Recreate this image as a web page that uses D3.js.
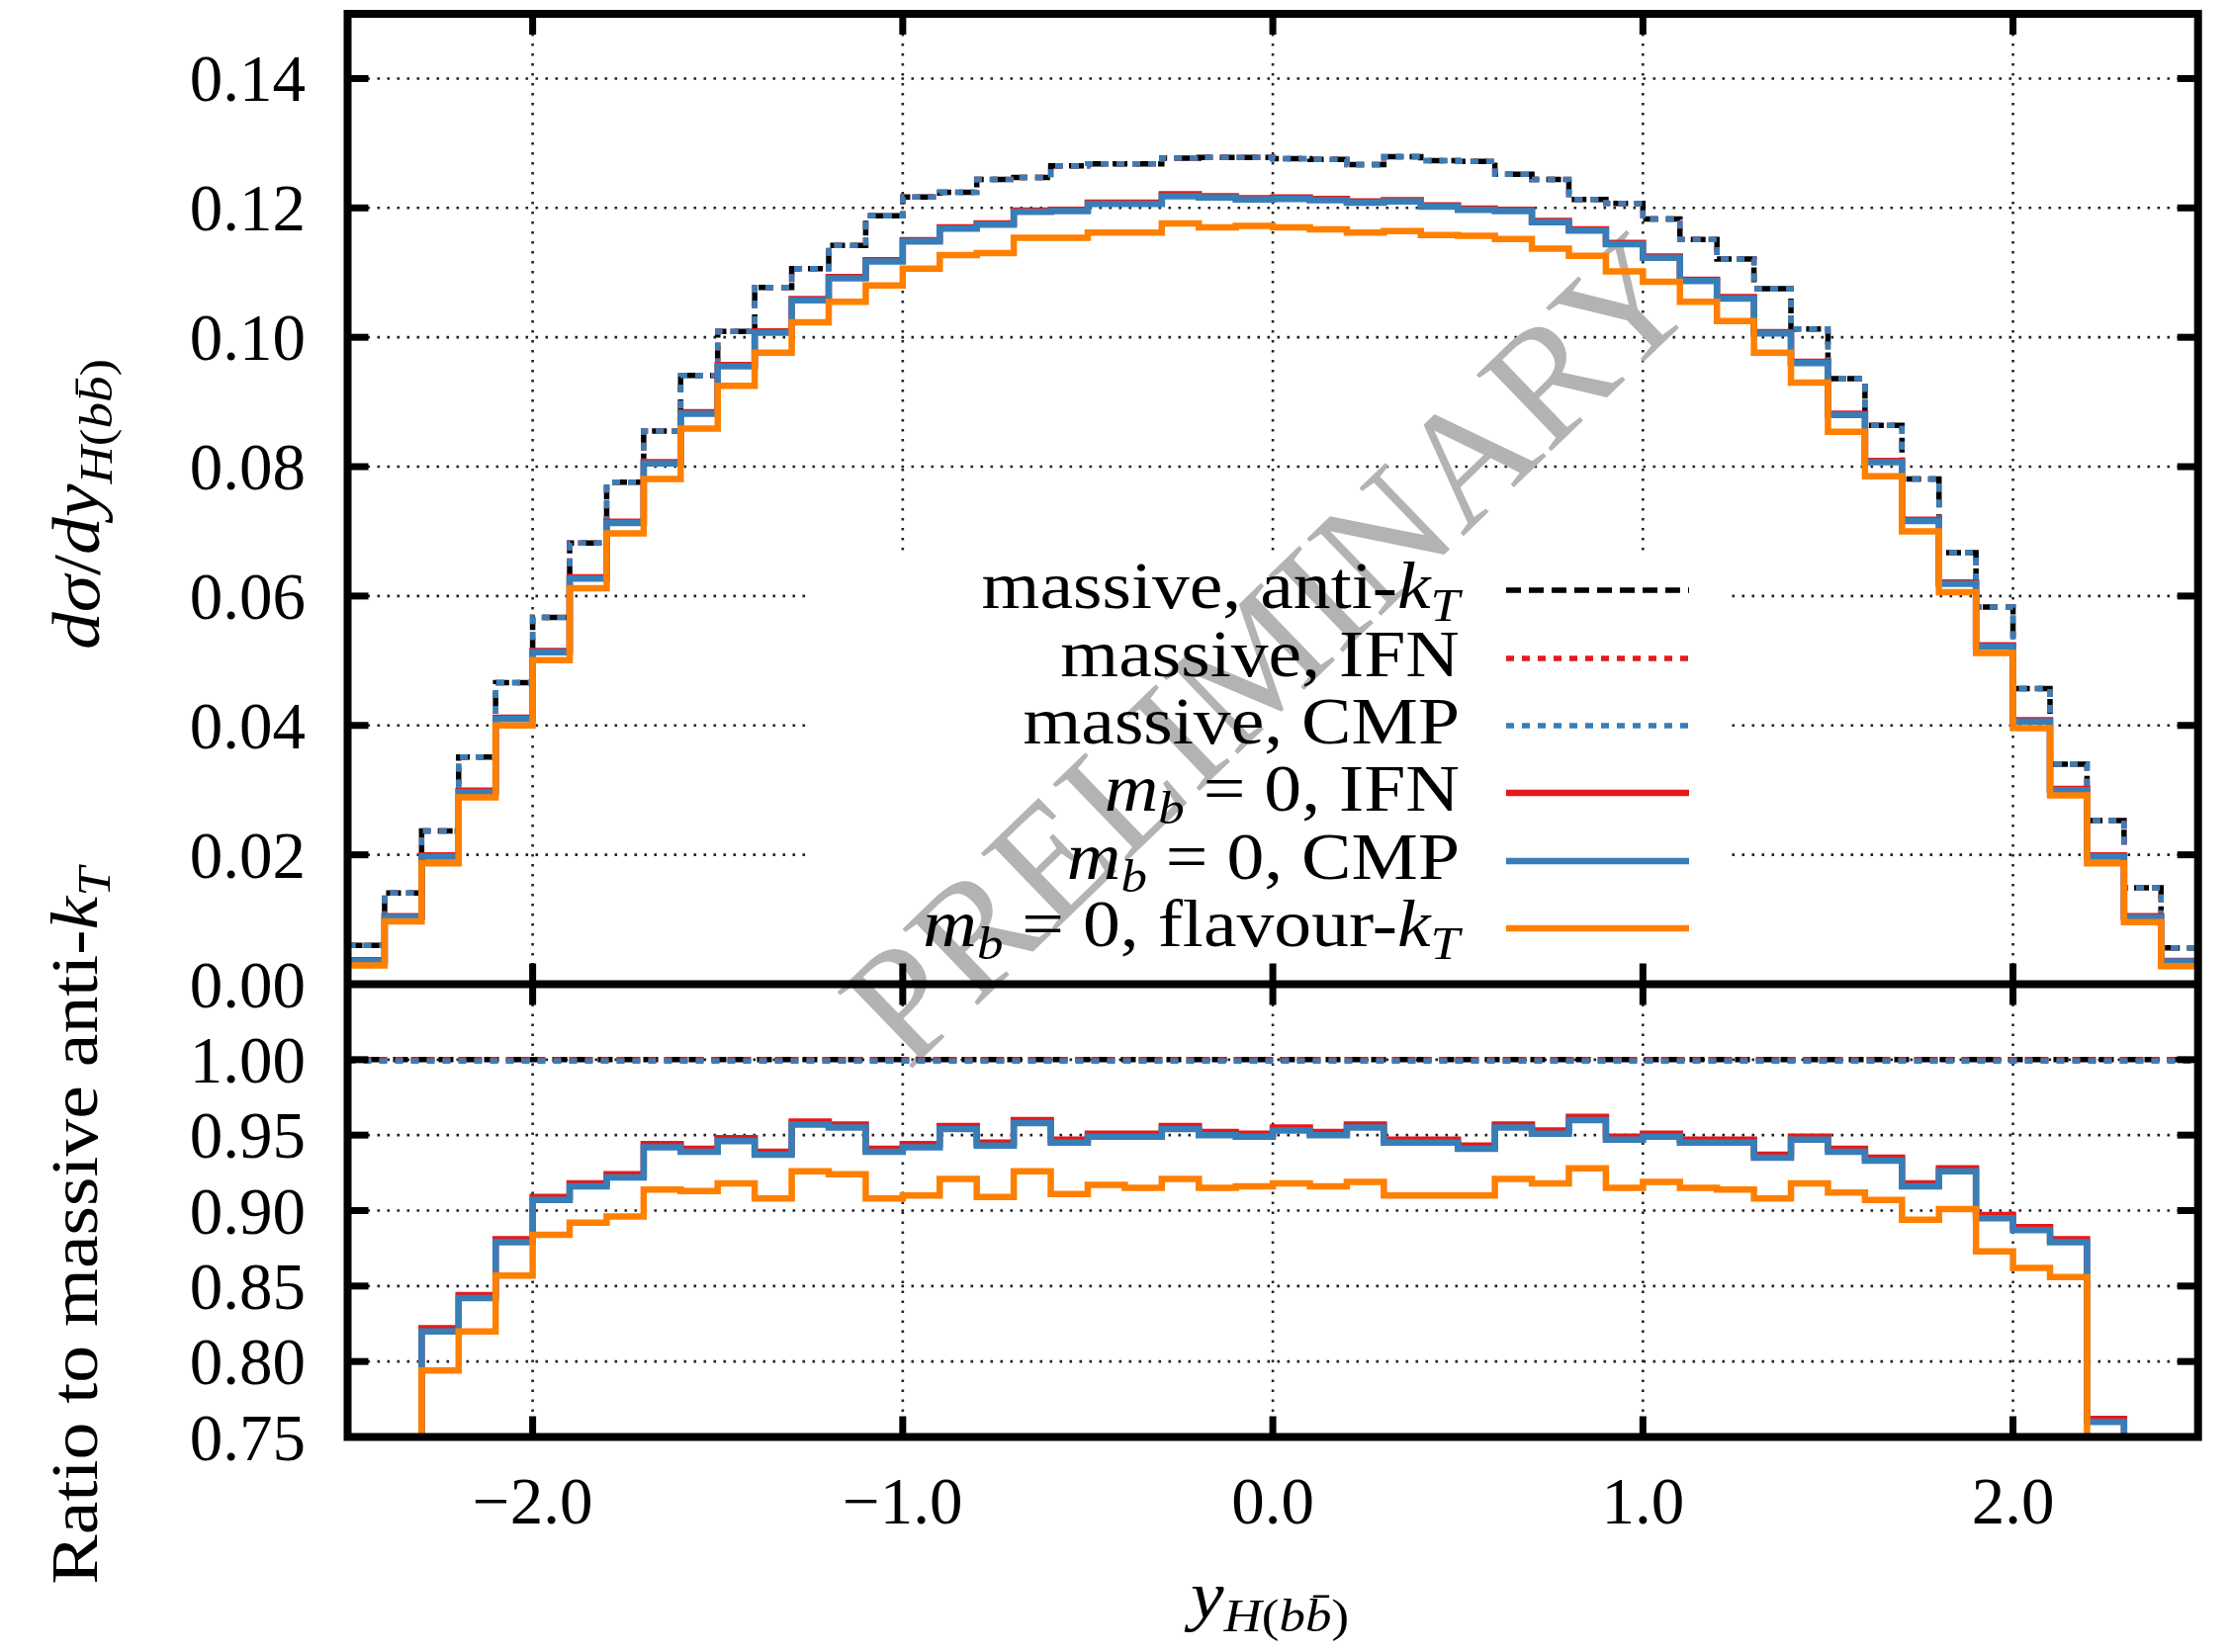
<!DOCTYPE html>
<html><head><meta charset="utf-8">
<script src="https://cdn.jsdelivr.net/npm/d3@7"></script>
<style>body{margin:0;background:#fff}</style>
</head><body>
<svg id="c" width="2254" height="1671"></svg>
<script>
// ---------------- DATA ----------------
const binEdges = [-2.5,-2.4,-2.3,-2.2,-2.1,-2.0,-1.9,-1.8,-1.7,-1.6,-1.5,-1.4,-1.3,-1.2,-1.1,-1.0,-0.9,-0.8,-0.7,-0.6,-0.5,-0.4,-0.3,-0.2,-0.1,0.0,0.1,0.2,0.3,0.4,0.5,0.6,0.7,0.8,0.9,1.0,1.1,1.2,1.3,1.4,1.5,1.6,1.7,1.8,1.9,2.0,2.1,2.2,2.3,2.4,2.5];

// upper panel: dsigma/dy
const massiveAntiKt = [0.0060,0.0141,0.0237,0.0351,0.0466,0.0567,0.0682,0.0776,0.0855,0.0941,0.1009,0.1077,0.1106,0.1142,0.1188,0.1217,0.1224,0.1244,0.1247,0.1265,0.1268,0.1268,0.1277,0.1278,0.1278,0.1276,0.1275,0.1267,0.1279,0.1273,0.1272,0.1252,0.1244,0.1213,0.1207,0.1183,0.1151,0.1121,0.1075,0.1013,0.0936,0.0864,0.0781,0.0667,0.0583,0.0457,0.0340,0.0253,0.0149,0.0056];
const massiveIFN = [0.0060,0.0141,0.0237,0.0351,0.0466,0.0567,0.0682,0.0776,0.0855,0.0941,0.1009,0.1077,0.1106,0.1142,0.1188,0.1217,0.1224,0.1244,0.1247,0.1265,0.1268,0.1268,0.1277,0.1278,0.1278,0.1276,0.1275,0.1267,0.1279,0.1273,0.1272,0.1252,0.1244,0.1213,0.1207,0.1183,0.1151,0.1121,0.1075,0.1013,0.0936,0.0864,0.0781,0.0667,0.0583,0.0457,0.0340,0.0253,0.0149,0.0056];
const massiveCMP = [0.0060,0.0141,0.0237,0.0351,0.0466,0.0567,0.0682,0.0776,0.0855,0.0941,0.1009,0.1077,0.1106,0.1142,0.1188,0.1217,0.1224,0.1244,0.1247,0.1265,0.1268,0.1268,0.1277,0.1278,0.1278,0.1276,0.1275,0.1267,0.1279,0.1273,0.1272,0.1252,0.1244,0.1213,0.1207,0.1183,0.1151,0.1121,0.1075,0.1013,0.0936,0.0864,0.0781,0.0667,0.0583,0.0457,0.0340,0.0253,0.0149,0.0056];
const mb0IFN = [0.0037,0.0105,0.0199,0.0299,0.0412,0.0515,0.0629,0.0715,0.0807,0.0884,0.0957,0.1009,0.1059,0.1093,0.1119,0.1150,0.1170,0.1176,0.1196,0.1197,0.1208,0.1208,0.1221,0.1218,0.1215,0.1216,0.1214,0.1210,0.1212,0.1204,0.1199,0.1197,0.1180,0.1167,0.1146,0.1125,0.1089,0.1062,0.1008,0.0962,0.0882,0.0809,0.0718,0.0621,0.0524,0.0408,0.0302,0.0199,0.0105,0.0036];
const mb0CMP = [0.0036,0.0104,0.0197,0.0297,0.0410,0.0513,0.0627,0.0713,0.0805,0.0882,0.0955,0.1007,0.1057,0.1091,0.1117,0.1148,0.1168,0.1174,0.1194,0.1195,0.1206,0.1206,0.1218,0.1216,0.1213,0.1214,0.1212,0.1208,0.1210,0.1202,0.1197,0.1195,0.1178,0.1165,0.1144,0.1123,0.1087,0.1060,0.1006,0.0960,0.0880,0.0807,0.0716,0.0619,0.0522,0.0406,0.0300,0.0197,0.0103,0.0035];
const mb0FlavKt = [0.0029,0.0097,0.0187,0.0289,0.0400,0.0501,0.0612,0.0697,0.0781,0.0859,0.0925,0.0976,0.1023,0.1055,0.1080,0.1106,0.1127,0.1130,0.1154,0.1154,0.1162,0.1162,0.1176,0.1170,0.1172,0.1170,0.1167,0.1162,0.1164,0.1158,0.1157,0.1152,0.1137,0.1126,0.1102,0.1086,0.1055,0.1025,0.0976,0.0930,0.0854,0.0785,0.0700,0.0606,0.0512,0.0396,0.0292,0.0187,0.0096,0.0028];

// lower panel: ratio to massive anti-kT
const ratioMassiveAntiKt = [1,1,1,1,1,1,1,1,1,1,1,1,1,1,1,1,1,1,1,1,1,1,1,1,1,1,1,1,1,1,1,1,1,1,1,1,1,1,1,1,1,1,1,1,1,1,1,1,1,1];
const ratioMassiveIFN = [1,1,1,1,1,1,1,1,1,1,1,1,1,1,1,1,1,1,1,1,1,1,1,1,1,1,1,1,1,1,1,1,1,1,1,1,1,1,1,1,1,1,1,1,1,1,1,1,1,1];
const ratioMassiveCMP = [0.999,0.999,0.999,0.999,0.999,0.999,0.999,0.999,0.999,0.999,0.999,0.999,0.999,0.999,0.999,0.999,0.999,0.999,0.999,0.999,0.999,0.999,0.999,0.999,0.999,0.999,0.999,0.999,0.999,0.999,0.999,0.999,0.999,0.999,0.999,0.999,0.999,0.999,0.999,0.999,0.999,0.999,0.999,0.999,0.999,0.999,0.999,0.999,0.999,0.999];
const ratioMb0IFN = [0.61,0.745,0.822,0.844,0.881,0.909,0.918,0.924,0.944,0.941,0.948,0.939,0.959,0.957,0.941,0.944,0.956,0.945,0.960,0.947,0.951,0.951,0.956,0.952,0.951,0.955,0.952,0.957,0.947,0.947,0.943,0.957,0.953,0.962,0.949,0.951,0.947,0.947,0.937,0.949,0.941,0.935,0.918,0.928,0.897,0.889,0.881,0.762,0.70,0.64];
const ratioMb0CMP = [0.60,0.74,0.820,0.842,0.879,0.907,0.916,0.922,0.942,0.939,0.946,0.937,0.957,0.955,0.939,0.942,0.954,0.943,0.958,0.945,0.949,0.949,0.954,0.950,0.949,0.953,0.950,0.955,0.945,0.945,0.941,0.955,0.951,0.960,0.947,0.949,0.945,0.945,0.935,0.947,0.939,0.933,0.916,0.926,0.895,0.887,0.879,0.760,0.69,0.63];
const ratioMb0FlavKt = [0.48,0.69,0.794,0.820,0.857,0.884,0.892,0.896,0.914,0.913,0.918,0.908,0.926,0.924,0.908,0.910,0.921,0.909,0.926,0.911,0.917,0.915,0.921,0.915,0.916,0.918,0.916,0.919,0.910,0.910,0.910,0.921,0.918,0.928,0.915,0.919,0.915,0.914,0.908,0.918,0.912,0.907,0.894,0.901,0.873,0.862,0.856,0.72,0.64,0.50];

const xTicks = [-2,-1,0,1,2];
const xTickLabels = ["\u22122.0","\u22121.0","0.0","1.0","2.0"];
const yUpperTicks = [0,0.02,0.04,0.06,0.08,0.10,0.12,0.14];
const yUpperTickLabels = ["0.00","0.02","0.04","0.06","0.08","0.10","0.12","0.14"];
const yLowerTicks = [0.75,0.80,0.85,0.90,0.95,1.00];
const yLowerTickLabels = ["0.75","0.80","0.85","0.90","0.95","1.00"];

const seriesNames = ["massive, anti-kT","massive, IFN","massive, CMP","mb = 0, IFN","mb = 0, CMP","mb = 0, flavour-kT"];

// ---------------- STYLE / LAYOUT ----------------
const FONT = "'Liberation Serif','Times New Roman',serif";
const FS = 67, SX = 1.13;
const L = 351.5, R = 2222.7, T = 14, M = 995.5, B = 1453.5;
const styles = [
  {color:"#000000", dash:"15,8", w:5.5},
  {color:"#e41a1c", dash:"8,8", w:5.5},
  {color:"#377eb8", dash:"8,8", w:5.5},
  {color:"#e41a1c", dash:null, w:6.5},
  {color:"#377eb8", dash:null, w:6.5},
  {color:"#ff7f00", dash:null, w:6.5}
];
const upperSeries = [massiveAntiKt, massiveIFN, massiveCMP, mb0IFN, mb0CMP, mb0FlavKt];
const lowerSeries = [ratioMassiveAntiKt, ratioMassiveIFN, ratioMassiveCMP, ratioMb0IFN, ratioMb0CMP, ratioMb0FlavKt];

const svg = d3.select("#c");
const x = d3.scaleLinear().domain([-2.5,2.5]).range([L,R]);
const yU = d3.scaleLinear().domain([0,0.15]).range([M,T]);
const yL = d3.scaleLinear().domain([0.75,1.05]).range([B,M]);

const defs = svg.append("defs");
defs.append("clipPath").attr("id","clipU").append("rect").attr("x",L).attr("y",T).attr("width",R-L).attr("height",M-T);
defs.append("clipPath").attr("id","clipL").append("rect").attr("x",L).attr("y",M).attr("width",R-L).attr("height",B-M);

const gridStyle = g => g.attr("stroke","#222").attr("stroke-width",2.6).attr("stroke-dasharray","2.6,7.4").attr("fill","none");

// grids
const gU = svg.append("g").call(gridStyle);
yUpperTicks.filter(v=>v>0).forEach(v=>gU.append("line").attr("x1",L).attr("x2",R).attr("y1",yU(v)).attr("y2",yU(v)));
xTicks.forEach(v=>gU.append("line").attr("x1",x(v)).attr("x2",x(v)).attr("y1",T).attr("y2",M));
const gL = svg.append("g").call(gridStyle);
yLowerTicks.filter(v=>v>0.75).forEach(v=>gL.append("line").attr("x1",L).attr("x2",R).attr("y1",yL(v)).attr("y2",yL(v)));
xTicks.forEach(v=>gL.append("line").attr("x1",x(v)).attr("x2",x(v)).attr("y1",M).attr("y2",B));

// legend background (hides grid)
svg.append("rect").attr("x",818).attr("y",560).attr("width",932).attr("height",M-560).attr("fill","#fff");

// watermark
svg.append("text").attr("transform","translate(1282,656) rotate(-44)")
  .attr("text-anchor","middle").attr("dominant-baseline","central")
  .attr("font-family",FONT).attr("font-size",165).attr("fill","#b3b3b3")
  .text("PRELIMINARY");

// curves
function stepPts(vals){ return binEdges.map((e,i)=>[e, vals[Math.min(i, vals.length-1)]]); }
const lineU = d3.line().x(d=>x(d[0])).y(d=>yU(d[1])).curve(d3.curveStepAfter);
const lineL = d3.line().x(d=>x(d[0])).y(d=>yL(d[1])).curve(d3.curveStepAfter);
const cU = svg.append("g").attr("clip-path","url(#clipU)");
const cL = svg.append("g").attr("clip-path","url(#clipL)");
upperSeries.forEach((s,i)=>{
  const st = styles[i];
  cU.append("path").attr("d", lineU(stepPts(s))).attr("fill","none").attr("stroke",st.color)
    .attr("stroke-width",st.w).attr("stroke-dasharray",st.dash);
});
lowerSeries.forEach((s,i)=>{
  const st = styles[i];
  cL.append("path").attr("d", lineL(stepPts(s))).attr("fill","none").attr("stroke",st.color)
    .attr("stroke-width",st.w).attr("stroke-dasharray",st.dash);
});

// rich text helper
function rich(sel, parts, size){
  let sub = false;
  parts.forEach(p=>{
    const ts = sel.append("tspan").text(p.t);
    if(p.i) ts.attr("font-style","italic");
    if(p.s){ ts.attr("font-size", size*0.7); if(!sub) ts.attr("dy", size*0.2); sub = true; }
    else { if(sub) ts.attr("dy", -size*0.2); sub = false; }
  });
}
const legendParts = [
  [{t:"massive, anti-"},{t:"k",i:1},{t:"T",i:1,s:1}],
  [{t:"massive, IFN"}],
  [{t:"massive, CMP"}],
  [{t:"m",i:1},{t:"b",i:1,s:1},{t:" = 0, IFN"}],
  [{t:"m",i:1},{t:"b",i:1,s:1},{t:" = 0, CMP"}],
  [{t:"m",i:1},{t:"b",i:1,s:1},{t:" = 0, flavour-"},{t:"k",i:1},{t:"T",i:1,s:1}]
];
const legY = [597, 666, 734, 802, 871, 939];
seriesNames.forEach((n,i)=>{
  const t = svg.append("text").attr("transform",`translate(1476,${legY[i]+18}) scale(${SX},1)`)
    .attr("text-anchor","end").attr("font-family",FONT).attr("font-size",FS).attr("fill","#000");
  rich(t, legendParts[i], FS);
  const st = styles[i];
  svg.append("line").attr("x1",1523).attr("x2",1708).attr("y1",legY[i]).attr("y2",legY[i])
    .attr("stroke",st.color).attr("stroke-width",st.w).attr("stroke-dasharray",st.dash);
});

// frame + ticks
const fr = svg.append("g").attr("stroke","#000").attr("fill","none");
fr.append("rect").attr("x",L).attr("y",T).attr("width",R-L).attr("height",B-T).attr("stroke-width",8);
fr.append("line").attr("x1",L).attr("x2",R).attr("y1",M).attr("y2",M).attr("stroke-width",8);
const TL = 21, TW = 7;
xTicks.forEach(v=>{
  [[T,1],[M,-1],[M,1],[B,-1]].forEach(([y0,dir])=>{
    fr.append("line").attr("x1",x(v)).attr("x2",x(v)).attr("y1",y0).attr("y2",y0+dir*TL).attr("stroke-width",TW);
  });
});
yUpperTicks.forEach(v=>{
  fr.append("line").attr("x1",L).attr("x2",L+TL).attr("y1",yU(v)).attr("y2",yU(v)).attr("stroke-width",TW);
  fr.append("line").attr("x1",R).attr("x2",R-TL).attr("y1",yU(v)).attr("y2",yU(v)).attr("stroke-width",TW);
});
yLowerTicks.forEach(v=>{
  fr.append("line").attr("x1",L).attr("x2",L+TL).attr("y1",yL(v)).attr("y2",yL(v)).attr("stroke-width",TW);
  fr.append("line").attr("x1",R).attr("x2",R-TL).attr("y1",yL(v)).attr("y2",yL(v)).attr("stroke-width",TW);
});

// tick labels
const lab = svg.append("g").attr("font-family",FONT).attr("font-size",FS).attr("fill","#000");
yUpperTicks.forEach((v,i)=>lab.append("text").attr("x",309).attr("y",yU(v)+23).attr("text-anchor","end").text(yUpperTickLabels[i]));
yLowerTicks.forEach((v,i)=>lab.append("text").attr("x",309).attr("y",yL(v)+23).attr("text-anchor","end").text(yLowerTickLabels[i]));
xTicks.forEach((v,i)=>lab.append("text").attr("x",x(v)).attr("y",1541).attr("text-anchor","middle").text(xTickLabels[i]));

// axis titles
const xt = svg.append("text").attr("transform",`translate(1284,1637) scale(${SX},1)`).attr("text-anchor","middle")
  .attr("font-family",FONT).attr("font-size",FS);
rich(xt, [{t:"y",i:1},{t:"H",i:1,s:1},{t:"(",s:1},{t:"bb\u0304",i:1,s:1},{t:")",s:1}], FS);

const yt1 = svg.append("text").attr("transform",`translate(100,510) rotate(-90) scale(${SX},1)`).attr("text-anchor","middle")
  .attr("font-family",FONT).attr("font-size",FS);
rich(yt1, [{t:"d\u03c3",i:1},{t:"/"},{t:"dy",i:1},{t:"H",i:1,s:1},{t:"(",s:1},{t:"bb\u0304",i:1,s:1},{t:")",s:1}], FS);

const yt2 = svg.append("text").attr("transform",`translate(98,1240) rotate(-90) scale(${SX},1)`).attr("text-anchor","middle")
  .attr("font-family",FONT).attr("font-size",FS);
rich(yt2, [{t:"Ratio to massive anti-"},{t:"k",i:1},{t:"T",i:1,s:1}], FS);
</script>
</body></html>
